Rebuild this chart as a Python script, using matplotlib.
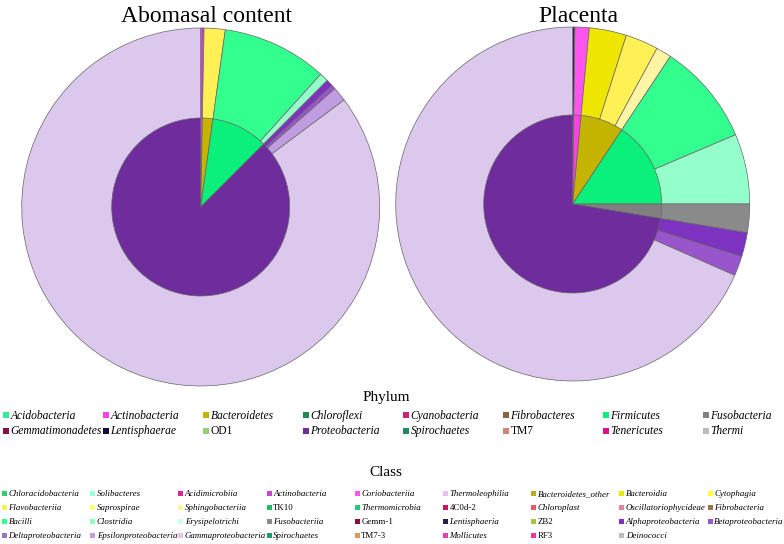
import matplotlib
matplotlib.use("Agg")
import matplotlib.pyplot as plt
from matplotlib.patches import Rectangle

plt.rcParams['font.family'] = ['Liberation Serif', 'DejaVu Serif']

W, H = 784, 544

# ---------------- data ----------------
titles = ["Abomasal content", "Placenta"]

ab_phylum = ["Actinobacteria", "Bacteroidetes", "Firmicutes", "Proteobacteria"]
ab_phylum_vals = [0.3, 1.9, 10.3, 87.5]
ab_class = ["Actinobacteria", "Flavobacteriia", "Bacilli", "Clostridia",
            "Alphaproteobacteria", "Betaproteobacteria", "Epsilonproteobacteria",
            "Gammaproteobacteria"]
ab_class_vals = [0.3, 1.9, 9.5, 0.8, 0.6, 0.4, 1.3, 85.2]

pl_phylum = ["Lentisphaerae", "Actinobacteria", "Bacteroidetes", "Firmicutes",
             "Fusobacteria", "Proteobacteria"]
pl_phylum_vals = [0.2, 1.3, 7.8, 15.7, 2.6, 72.4]
pl_class = ["Lentisphaeria", "Coriobacteriia", "Bacteroidia", "Flavobacteriia",
            "Sphingobacteriia", "Bacilli", "Clostridia", "Fusobacteriia",
            "Alphaproteobacteria", "Betaproteobacteria", "Gammaproteobacteria"]
pl_class_vals = [0.2, 1.3, 3.4, 3.0, 1.4, 9.3, 6.4, 2.6, 2.2, 1.8, 68.4]

phylum_legend = ["Acidobacteria", "Actinobacteria", "Bacteroidetes", "Chloroflexi",
                 "Cyanobacteria", "Fibrobacteres", "Firmicutes", "Fusobacteria",
                 "Gemmatimonadetes", "Lentisphaerae", "OD1", "Proteobacteria",
                 "Spirochaetes", "TM7", "Tenericutes", "Thermi"]
class_legend = ["Chloracidobacteria", "Solibacteres", "Acidimicrobiia", "Actinobacteria",
                "Coriobacteriia", "Thermoleophilia", "Bacteroidetes_other", "Bacteroidia",
                "Cytophagia", "Flavobacteriia", "Saprospirae", "Sphingobacteriia", "TK10",
                "Thermomicrobia", "4C0d-2", "Chloroplast", "Oscillatoriophycideae",
                "Fibrobacteria", "Bacilli", "Clostridia", "Erysipelotrichi", "Fusobacteriia",
                "Gemm-1", "Lentisphaeria", "ZB2", "Alphaproteobacteria", "Betaproteobacteria",
                "Deltaproteobacteria", "Epsilonproteobacteria", "Gammaproteobacteria",
                "Spirochaetes", "TM7-3", "Mollicutes", "RF3", "Deinococci"]
non_italic = {"OD1", "TM7", "TK10", "4C0d-2", "Gemm-1", "ZB2", "TM7-3", "RF3"}

# ---------------- colours ----------------
phylum_colors = {
    "Acidobacteria": "#33EE99", "Actinobacteria": "#FF40E8", "Bacteroidetes": "#C4B400",
    "Chloroflexi": "#228855", "Cyanobacteria": "#CC2277", "Fibrobacteres": "#886644",
    "Firmicutes": "#0AF07A", "Fusobacteria": "#808080", "Gemmatimonadetes": "#881144",
    "Lentisphaerae": "#111133", "OD1": "#99CC77", "Proteobacteria": "#6E2C9C",
    "Spirochaetes": "#228866", "TM7": "#CC8877", "Tenericutes": "#DD1188", "Thermi": "#BBBBBB",
}
class_colors = {
    "Chloracidobacteria": "#33CC77", "Solibacteres": "#99FFDD", "Acidimicrobiia": "#DD2299",
    "Actinobacteria": "#CC44CC", "Coriobacteriia": "#FF55EE", "Thermoleophilia": "#EEBBEE",
    "Bacteroidetes_other": "#BBAA22", "Bacteroidia": "#EEE600", "Cytophagia": "#FFFF33",
    "Flavobacteriia": "#FFF055", "Saprospirae": "#FFFF77", "Sphingobacteriia": "#FFF5A5",
    "TK10": "#22BB66", "Thermomicrobia": "#22CC77", "4C0d-2": "#CC1166",
    "Chloroplast": "#EE5566", "Oscillatoriophycideae": "#DD8899", "Fibrobacteria": "#997744",
    "Bacilli": "#33FF8F", "Clostridia": "#95FFCC", "Erysipelotrichi": "#CCFFEE",
    "Fusobacteriia": "#8A8A8A", "Gemm-1": "#881133", "Lentisphaeria": "#222244",
    "ZB2": "#99CC44", "Alphaproteobacteria": "#7E33C0", "Betaproteobacteria": "#9955CC",
    "Deltaproteobacteria": "#9977BB", "Epsilonproteobacteria": "#C09CE0",
    "Gammaproteobacteria": "#DCC8EC", "Spirochaetes": "#229966", "TM7-3": "#DD9955",
    "Mollicutes": "#DD44AA", "RF3": "#EE3399", "Deinococci": "#BBBBBB",
}

fig = plt.figure(figsize=(W / 100, H / 100), dpi=100)


def pie_axes(cx, cy, half=185):
    ax = fig.add_axes([(cx - half) / W, (H - cy - half) / H, 2 * half / W, 2 * half / H])
    ax.set_xlim(-half, half)
    ax.set_ylim(-half, half)
    ax.set_aspect('equal')
    ax.axis('off')
    return ax


edge = dict(edgecolor="#666666", linewidth=0.5)
pies = [
    (200.7, 207, 179, ab_phylum, ab_phylum_vals, ab_class, ab_class_vals),
    (572.7, 204, 177, pl_phylum, pl_phylum_vals, pl_class, pl_class_vals),
]
r_in = 89
for i, (cx, cy, r_out, ph, phv, cl, clv) in enumerate(pies):
    ax = pie_axes(cx, cy)
    ax.pie(clv, colors=[class_colors[c] for c in cl], radius=r_out, startangle=90,
           counterclock=False, wedgeprops=edge)
    ax.pie(phv, colors=[phylum_colors[p] for p in ph], radius=r_in, startangle=90,
           counterclock=False, wedgeprops=edge)
    ax.set_xlim(-185, 185)
    ax.set_ylim(-185, 185)
    fig.text((cx + 6) / W, 1 - 16 / H, titles[i], ha='center', va='center', fontsize=17)

# ---------------- legends ----------------
fig.text(386 / W, 1 - 398 / H, "Phylum", ha='center', va='center', fontsize=11)
fig.text(386 / W, 1 - 472 / H, "Class", ha='center', va='center', fontsize=11)


def legend(items, colors, x0, dx, y0, dy, ncol, fs, msz, base_off):
    for k, name in enumerate(items):
        r, c = divmod(k, ncol)
        x = x0 + c * dx
        y = y0 + r * dy
        fig.patches.append(Rectangle(((x) / W, 1 - (y + msz / 2) / H), msz / W, msz / H,
                                     transform=fig.transFigure, facecolor=colors[name],
                                     edgecolor='none', figure=fig))
        fig.text((x + msz + 1.5) / W, 1 - (y + base_off) / H, name, ha='left',
                 va='baseline', fontsize=fs,
                 style='normal' if name in non_italic else 'italic')


legend(phylum_legend, phylum_colors, 3, 100, 415, 15.5, 8, 8.3, 6, 3.8)
legend(class_legend, class_colors, 2, 88.2, 493.5, 14, 9, 6.4, 5, 3.0)

fig.savefig("out.png", dpi=100)
